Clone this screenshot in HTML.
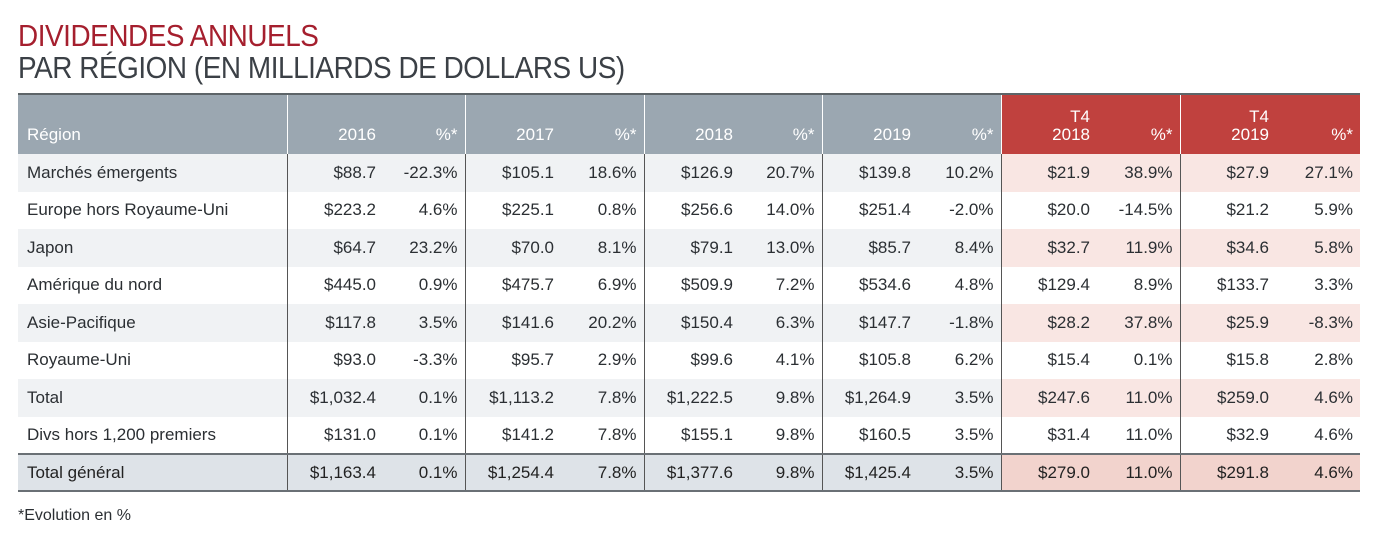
<!DOCTYPE html>
<html><head><meta charset="utf-8"><style>
body{margin:0;width:1377px;height:560px;background:#fff;font-family:"Liberation Sans",sans-serif;position:relative;overflow:hidden}
.t1,.t2{position:absolute;left:18px;font-size:31px;letter-spacing:-0.5px;line-height:32px;transform:scaleX(0.9);transform-origin:0 0;white-space:nowrap}
.t1{top:20px;color:#a51f2e}
.t2{top:52px;color:#3b4046}
table{position:absolute;left:18px;top:93px;border-collapse:collapse;table-layout:fixed;font-size:17px;color:#2b2f33}
td,th{padding:0;height:37.5px;text-align:right;white-space:nowrap;box-sizing:border-box}
th{height:60px;color:#fff;font-weight:normal;vertical-align:bottom;padding-bottom:10px;line-height:18px;background:#9ba7b1;border-top:2px solid #5d6468}
th.r{background:#c0413e}
td.l,th.l{text-align:left;padding-left:9px}
.v{padding-right:11px}
.p{padding-right:7px}
.g{border-left:1.5px solid #555}
th.g{border-left:1.5px solid #fff}
tr.s td{background:#f0f2f4}
tr.s td.k{background:#f9e6e3}
tr.tt td{background:#dee3e8;border-top:2px solid #6a7075;border-bottom:2px solid #6a7075;color:#222;height:37px}
tr.tt td.k{background:#f2d3cd}
.foot{position:absolute;left:18px;top:507px;font-size:16px;color:#2b2f33}
</style></head><body>
<div class="t1">DIVIDENDES ANNUELS</div>
<div class="t2">PAR RÉGION (EN MILLIARDS DE DOLLARS US)</div>
<table>
<colgroup><col style="width:269px"><col style="width:100px"><col style="width:78px"><col style="width:100px"><col style="width:79px"><col style="width:100px"><col style="width:78px"><col style="width:100px"><col style="width:79px"><col style="width:100px"><col style="width:79px"><col style="width:100px"><col style="width:80px"></colgroup>
<tr><th class="l">Région</th><th class="g v">2016</th><th class="p">%*</th><th class="g v">2017</th><th class="p">%*</th><th class="g v">2018</th><th class="p">%*</th><th class="g v">2019</th><th class="p">%*</th><th class="g v r">T4<br>2018</th><th class="p r">%*</th><th class="g v r">T4<br>2019</th><th class="p r">%*</th></tr>
<tr class="s"><td class="l">Marchés émergents</td><td class="g v">$88.7</td><td class="p">-22.3%</td><td class="g v">$105.1</td><td class="p">18.6%</td><td class="g v">$126.9</td><td class="p">20.7%</td><td class="g v">$139.8</td><td class="p">10.2%</td><td class="g v k">$21.9</td><td class="p k">38.9%</td><td class="g v k">$27.9</td><td class="p k">27.1%</td></tr>
<tr><td class="l">Europe hors Royaume-Uni</td><td class="g v">$223.2</td><td class="p">4.6%</td><td class="g v">$225.1</td><td class="p">0.8%</td><td class="g v">$256.6</td><td class="p">14.0%</td><td class="g v">$251.4</td><td class="p">-2.0%</td><td class="g v">$20.0</td><td class="p">-14.5%</td><td class="g v">$21.2</td><td class="p">5.9%</td></tr>
<tr class="s"><td class="l">Japon</td><td class="g v">$64.7</td><td class="p">23.2%</td><td class="g v">$70.0</td><td class="p">8.1%</td><td class="g v">$79.1</td><td class="p">13.0%</td><td class="g v">$85.7</td><td class="p">8.4%</td><td class="g v k">$32.7</td><td class="p k">11.9%</td><td class="g v k">$34.6</td><td class="p k">5.8%</td></tr>
<tr><td class="l">Amérique du nord</td><td class="g v">$445.0</td><td class="p">0.9%</td><td class="g v">$475.7</td><td class="p">6.9%</td><td class="g v">$509.9</td><td class="p">7.2%</td><td class="g v">$534.6</td><td class="p">4.8%</td><td class="g v">$129.4</td><td class="p">8.9%</td><td class="g v">$133.7</td><td class="p">3.3%</td></tr>
<tr class="s"><td class="l">Asie-Pacifique</td><td class="g v">$117.8</td><td class="p">3.5%</td><td class="g v">$141.6</td><td class="p">20.2%</td><td class="g v">$150.4</td><td class="p">6.3%</td><td class="g v">$147.7</td><td class="p">-1.8%</td><td class="g v k">$28.2</td><td class="p k">37.8%</td><td class="g v k">$25.9</td><td class="p k">-8.3%</td></tr>
<tr><td class="l">Royaume-Uni</td><td class="g v">$93.0</td><td class="p">-3.3%</td><td class="g v">$95.7</td><td class="p">2.9%</td><td class="g v">$99.6</td><td class="p">4.1%</td><td class="g v">$105.8</td><td class="p">6.2%</td><td class="g v">$15.4</td><td class="p">0.1%</td><td class="g v">$15.8</td><td class="p">2.8%</td></tr>
<tr class="s"><td class="l">Total</td><td class="g v">$1,032.4</td><td class="p">0.1%</td><td class="g v">$1,113.2</td><td class="p">7.8%</td><td class="g v">$1,222.5</td><td class="p">9.8%</td><td class="g v">$1,264.9</td><td class="p">3.5%</td><td class="g v k">$247.6</td><td class="p k">11.0%</td><td class="g v k">$259.0</td><td class="p k">4.6%</td></tr>
<tr><td class="l">Divs hors 1,200 premiers</td><td class="g v">$131.0</td><td class="p">0.1%</td><td class="g v">$141.2</td><td class="p">7.8%</td><td class="g v">$155.1</td><td class="p">9.8%</td><td class="g v">$160.5</td><td class="p">3.5%</td><td class="g v">$31.4</td><td class="p">11.0%</td><td class="g v">$32.9</td><td class="p">4.6%</td></tr>
<tr class="tt"><td class="l">Total général</td><td class="g v">$1,163.4</td><td class="p">0.1%</td><td class="g v">$1,254.4</td><td class="p">7.8%</td><td class="g v">$1,377.6</td><td class="p">9.8%</td><td class="g v">$1,425.4</td><td class="p">3.5%</td><td class="g v k">$279.0</td><td class="p k">11.0%</td><td class="g v k">$291.8</td><td class="p k">4.6%</td></tr>
</table>
<div class="foot">*Evolution en %</div>
</body></html>
